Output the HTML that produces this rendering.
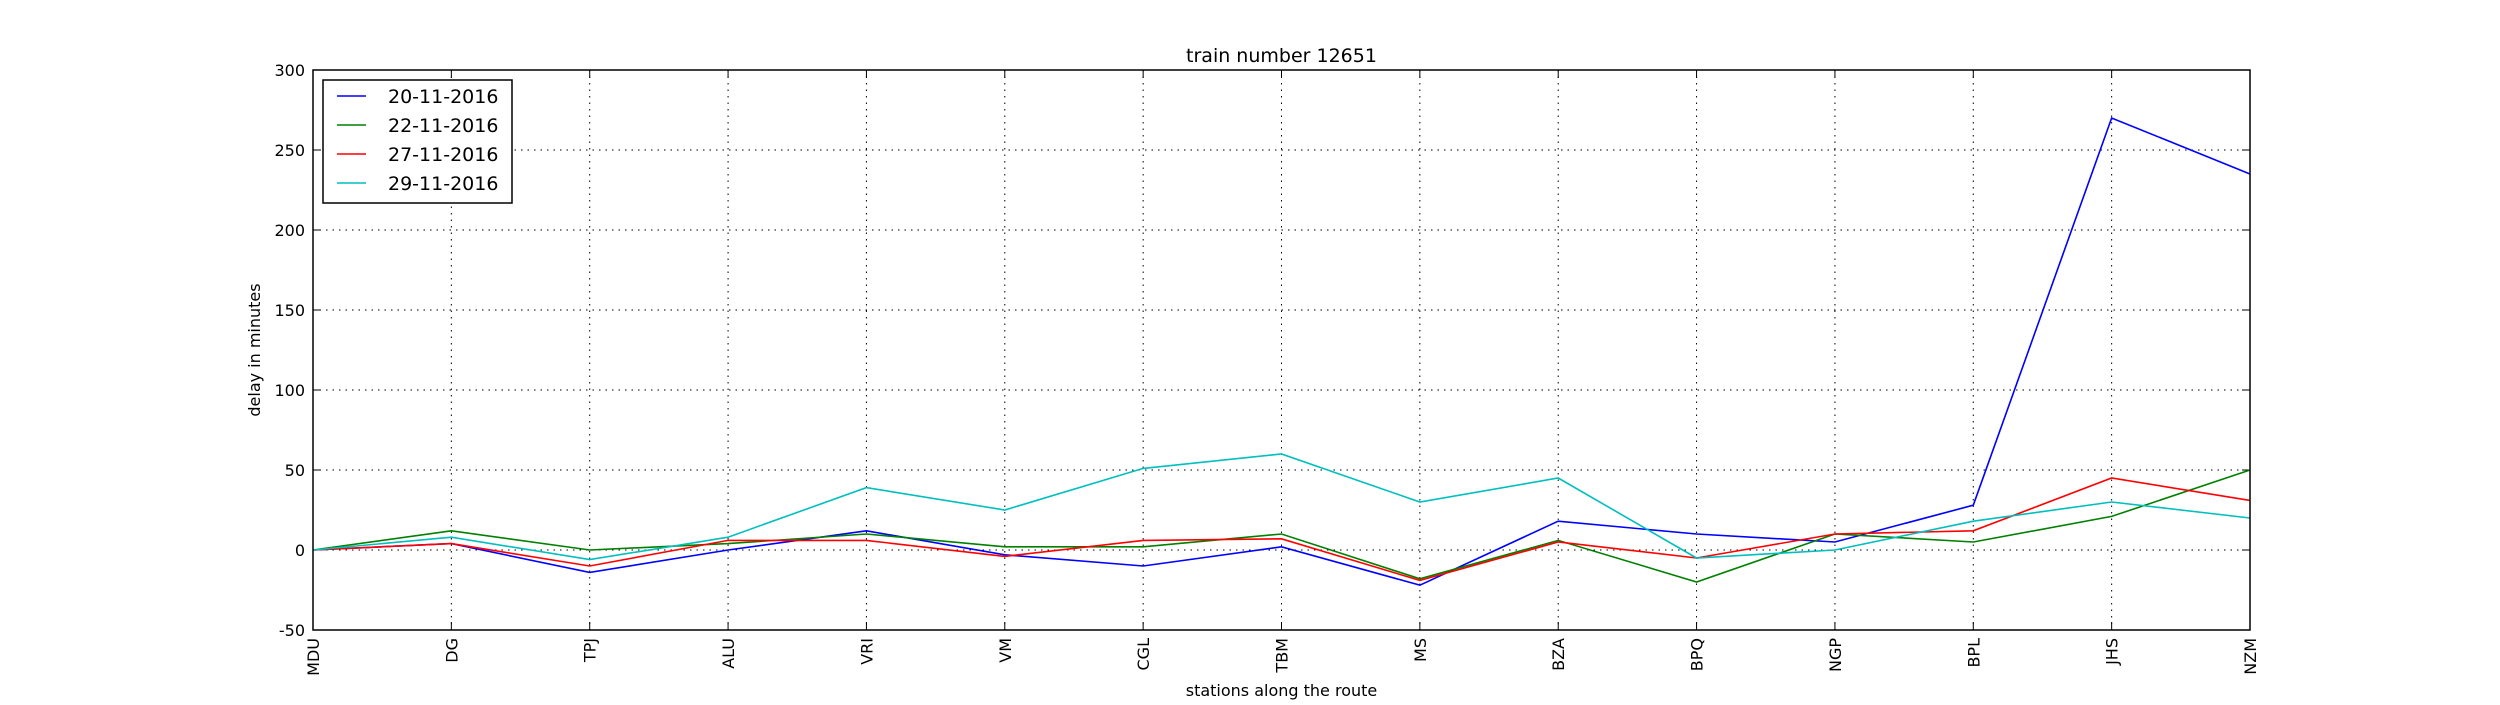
<!DOCTYPE html>
<html><head><meta charset="utf-8"><style>body{margin:0;background:#fff}svg text{font-family:"DejaVu Sans","Liberation Sans",sans-serif}</style></head>
<body>
<svg id="c" width="2500" height="700" xmlns="http://www.w3.org/2000/svg"></svg>
<script>
const stations=["MDU","DG","TPJ","ALU","VRI","VM","CGL","TBM","MS","BZA","BPQ","NGP","BPL","JHS","NZM"];
const yTicks=[-50,0,50,100,150,200,250,300];
const s20=[0,4,-14,0,12,-3,-10,2,-22,18,10,5,28,270,235];
const s22=[0,12,0,4,10,2,2,10,-18,6,-20,10,5,21,50];
const s27=[0,4,-10,6,6,-4,6,7,-19,5,-5,10,12,45,31];
const s29=[0,8,-6,8,39,25,51,60,30,45,-5,0,18,30,20];
const seriesNames=["20-11-2016","22-11-2016","27-11-2016","29-11-2016"];
const seriesVals=[s20,s22,s27,s29];
const colors=["#0000ff","#008000","#ff0000","#00bfbf"];
const L=313,R=2250,T=70,B=630,ymin=-50,ymax=300;
const X=i=>L+i*(R-L)/(stations.length-1);
const Y=v=>B-(v-ymin)/(ymax-ymin)*(B-T);
const svg=document.getElementById('c');const NS="http://www.w3.org/2000/svg";
function mk(t,a,p){const e=document.createElementNS(NS,t);for(const k in a)e.setAttribute(k,a[k]);(p||svg).appendChild(e);return e;}
yTicks.forEach(v=>{if(v>ymin&&v<ymax){const g=mk('line',{x1:L,x2:R,y1:Y(v),y2:Y(v),stroke:'#000','stroke-dasharray':'1.5,5','stroke-width':1});

}
mk('line',{x1:L,x2:L+8,y1:Y(v),y2:Y(v),stroke:'#000'});mk('line',{x1:R,x2:R-8,y1:Y(v),y2:Y(v),stroke:'#000'});
const t=mk('text',{x:L-8,y:Y(v)+6,'text-anchor':'end','font-size':16});t.textContent=v;

});
stations.forEach((s,i)=>{const x=X(i);if(i>0&&i<stations.length-1){const g=mk('line',{x1:x,x2:x,y1:T,y2:B,stroke:'#000','stroke-dasharray':'1.5,5','stroke-width':1});

}
mk('line',{x1:x,x2:x,y1:B,y2:B-8,stroke:'#000'});mk('line',{x1:x,x2:x,y1:T,y2:T+8,stroke:'#000'});
const t=mk('text',{x:0,y:0,'text-anchor':'end','font-size':16,transform:`translate(${x+6},${B+8}) rotate(-90)`});t.textContent=s;

});
seriesVals.forEach((vals,k)=>{const p=mk('polyline',{points:vals.map((v,i)=>X(i)+','+Y(v)).join(' '),fill:'none',stroke:colors[k],'stroke-width':1.6});

});
const fr=mk('rect',{x:L,y:T,width:R-L,height:B-T,fill:'none',stroke:'#000','stroke-width':1.5});


const lg=mk('g',{});


mk('rect',{x:323,y:80,width:189,height:123,fill:'#fff',stroke:'#000','stroke-width':1.5},lg);
seriesNames.forEach((n,k)=>{const y=96+k*29;mk('line',{x1:337,x2:366,y1:y,y2:y,stroke:colors[k],'stroke-width':1.6},lg);
const t=mk('text',{x:388,y:y+7,'font-size':19},lg);t.textContent=n;

});
const ti=mk('text',{x:(L+R)/2,y:62,'text-anchor':'middle','font-size':19});ti.textContent="train number 12651";


const xl=mk('text',{x:(L+R)/2,y:696,'text-anchor':'middle','font-size':16});xl.textContent="stations along the route";


const yl=mk('text',{x:0,y:0,'text-anchor':'middle','font-size':16,transform:`translate(260,${(T+B)/2}) rotate(-90)`});yl.textContent="delay in minutes";


</script>
</body></html>
